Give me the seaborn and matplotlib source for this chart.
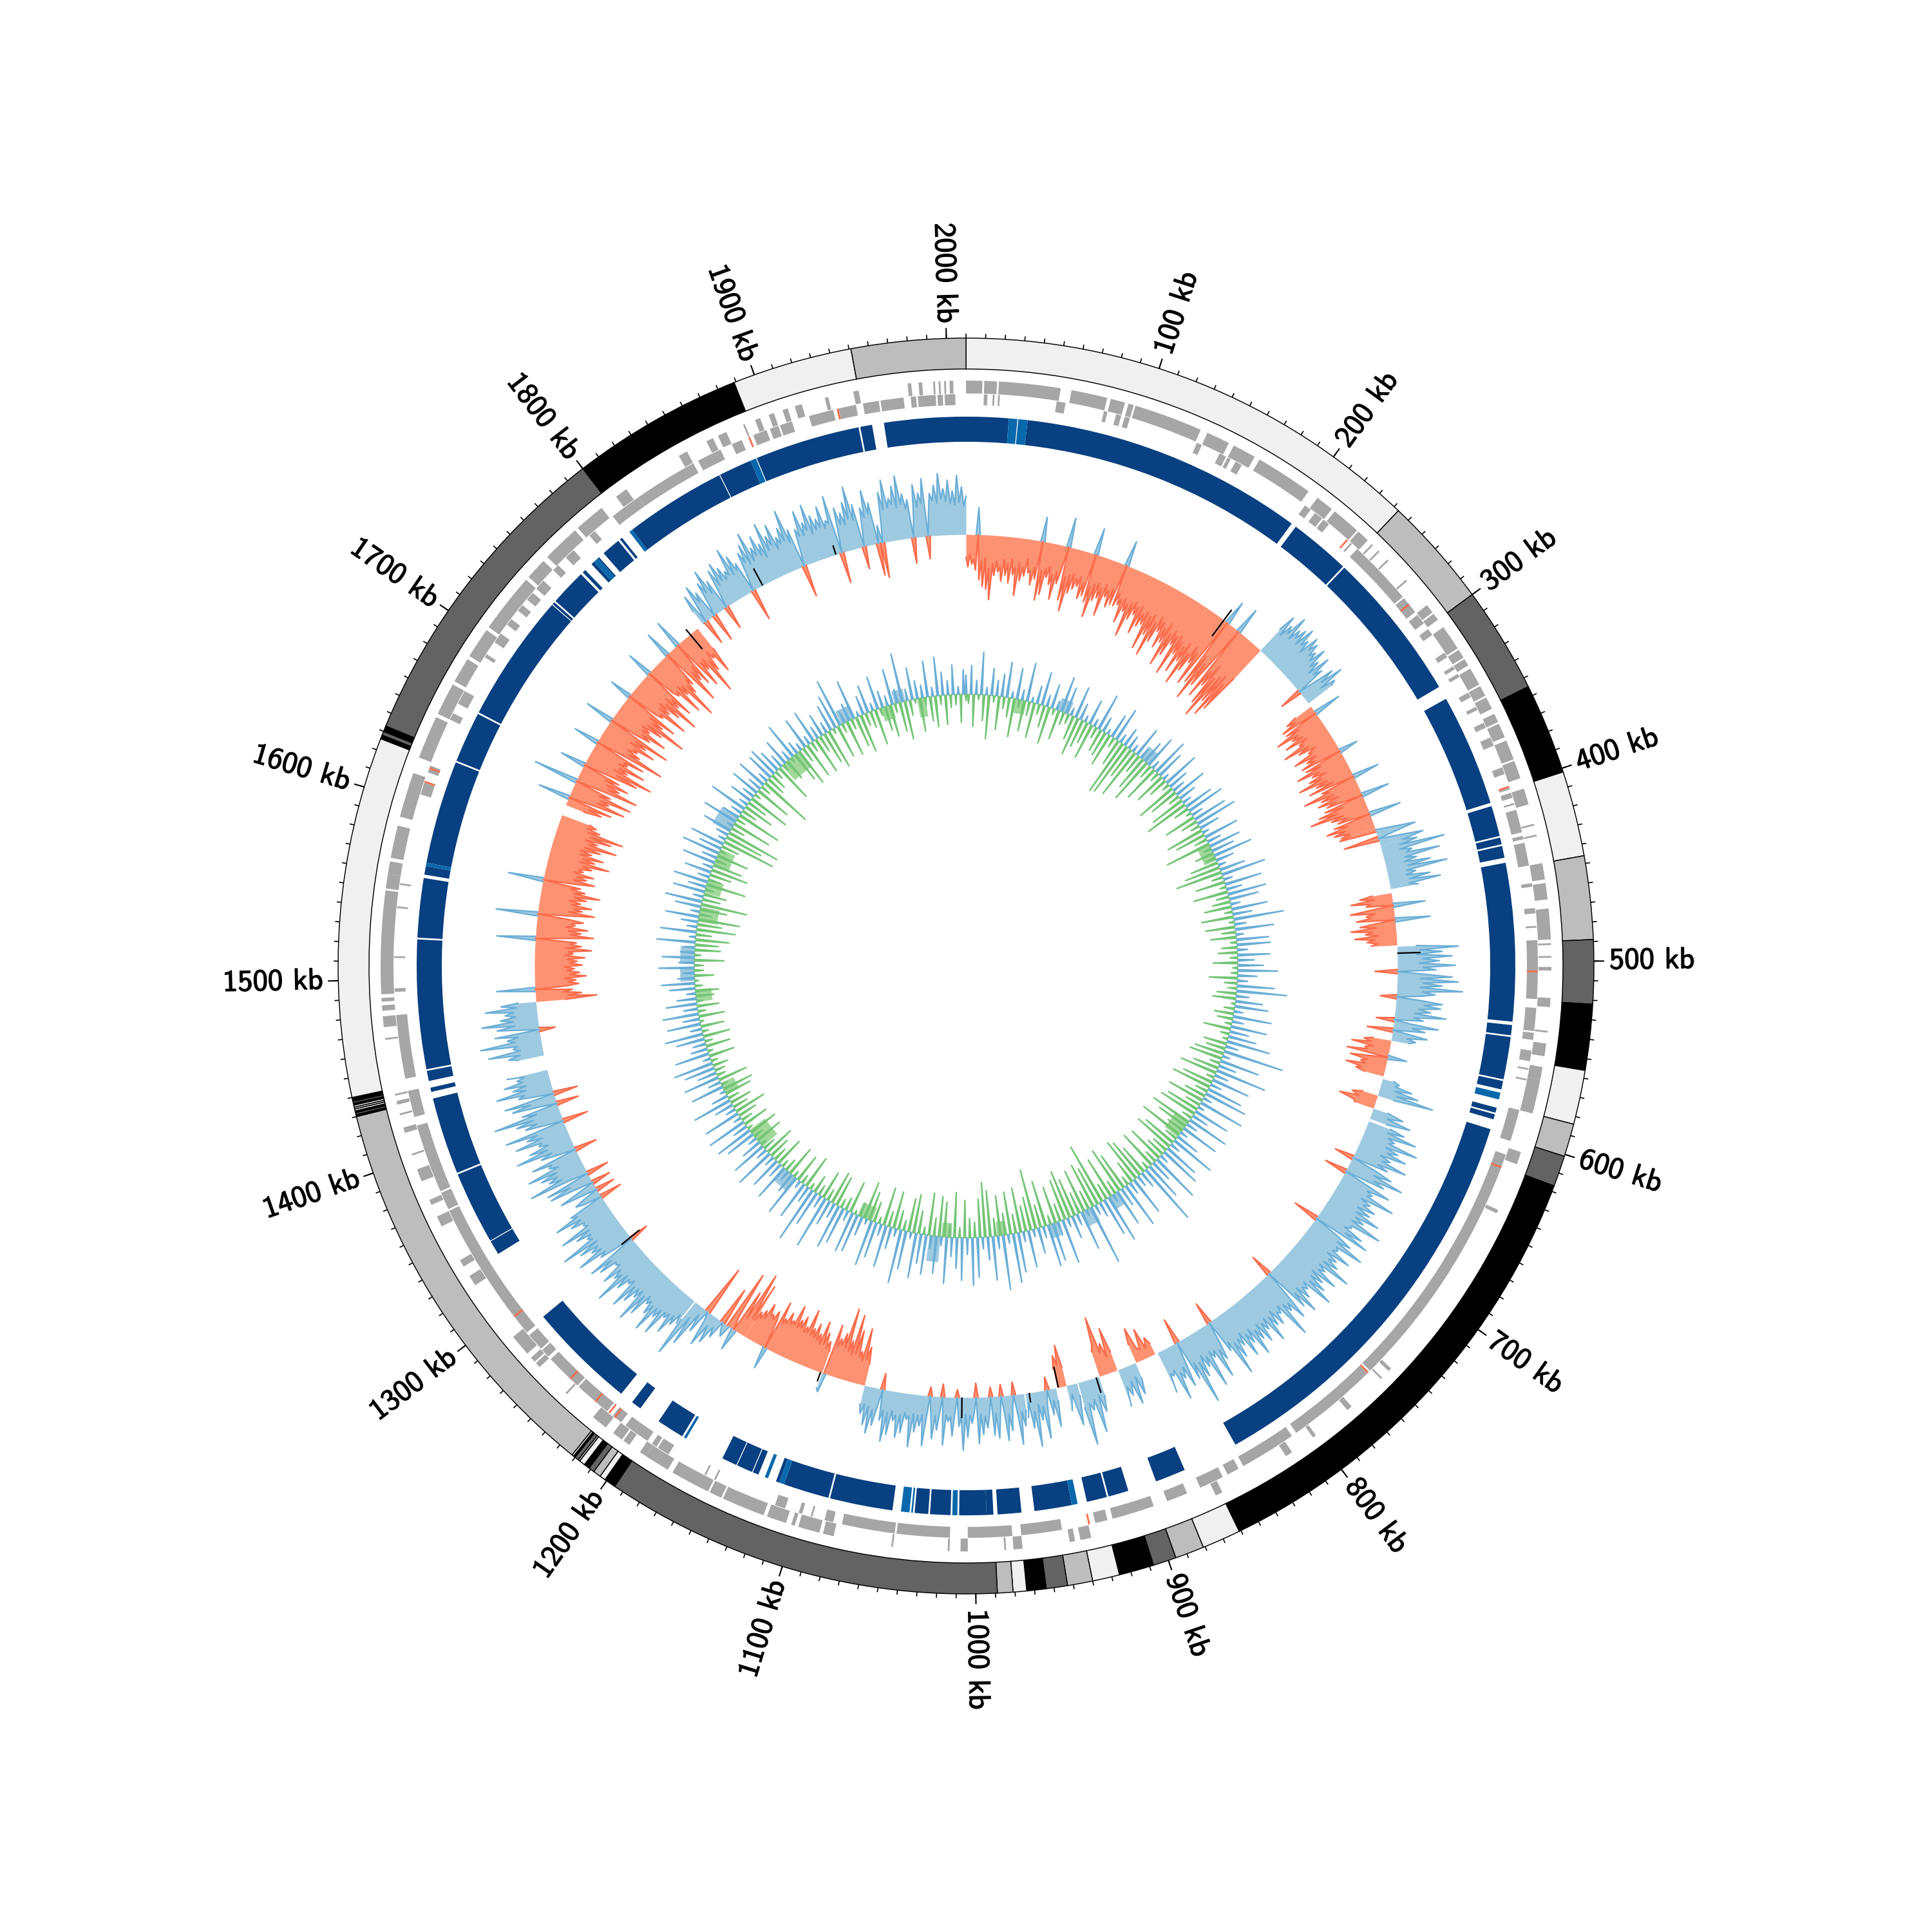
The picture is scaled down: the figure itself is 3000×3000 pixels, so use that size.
import numpy as np
import pandas as pd
import matplotlib
matplotlib.use("Agg")
import matplotlib.pyplot as plt
import matplotlib.patheffects as pe
import seaborn as sns

sns.set_theme(style="white")
plt.rcParams['font.family'] = ['cmss10', 'DejaVu Sans']
plt.rcParams['axes.unicode_minus'] = False

genome_kb = 2010
tick_labels = [100, 200, 300, 400, 500, 600, 700, 800, 900, 1000,
               1100, 1200, 1300, 1400, 1500, 1600, 1700, 1800, 1900, 2000]

# outer ring bands: edges in kb and a shade index for each band
band_edges = [0, 243, 300, 355, 402, 446, 489, 522, 556, 584, 601, 617, 861, 881, 896, 908, 926, 940, 953, 964,
              974, 981, 989, 1195, 1201, 1204, 1208, 1211, 1214, 1217, 1218, 1220, 1221, 1222, 1430,
              1431, 1432, 1433, 1434, 1435, 1436, 1437, 1438, 1439, 1440, 1626, 1628, 1630, 1633, 1800, 1889, 1951, 2010]
band_shade = [0, 1, 2, 3, 0, 1, 2, 3, 0, 1, 2, 3, 0, 1, 2, 3, 0, 1, 2, 3,
              0, 1, 2, 3, 0, 1, 2, 3, 0, 1, 2, 3, 0, 1,
              3, 2, 3, 0, 1, 0, 3, 2, 3, 3, 0, 3, 2, 3, 2, 3, 0, 1]
shades = ["#f0f0f0", "#bdbdbd", "#636363", "#000000"]

# gene blocks on each strand (start, end in kb)
genes_outer = [(0, 9), (10, 17), (18, 52), (58, 78), (80, 88), (90, 93), (94, 132), (136, 149), (152, 165), (168, 200),
               (206, 216), (218, 234), (235, 242), (245, 246), (250, 251), (257, 258), (272, 273), (290, 295), (296, 300),
               (305, 319), (320, 325), (326, 330), (332, 342), (343, 349), (350, 357), (360, 365), (366, 374), (376, 387),
               (388, 398), (404, 413), (424, 425), (430, 431), (446, 455), (457, 466), (471, 488), (490, 491), (497, 498),
               (503, 505), (520, 525), (538, 539), (545, 552), (558, 565), (565, 584), (606, 613), (640, 642), (745, 747),
               (752, 753), (775, 778), (800, 802), (816, 820), (860, 864), (945, 948), (936, 942), (974, 979), (983, 984),
               (1004, 1008), (1014, 1015), (1045, 1046), (1078, 1084), (1086, 1098), (1100, 1102), (1105, 1116), (1118, 1142),
               (1143, 1150), (1151, 1173), (1176, 1184), (1184, 1190), (1190, 1194), (1201, 1205), (1206, 1212), (1217, 1226),
               (1245, 1246), (1266, 1269), (1270, 1273), (1276, 1288), (1323, 1329), (1335, 1339), (1360, 1366), (1373, 1376),
               (1387, 1394), (1402, 1403), (1415, 1418), (1425, 1426), (1431, 1433), (1436, 1437), (1467, 1468), (1474, 1480),
               (1483, 1486), (1488, 1490), (1492, 1549), (1550, 1558), (1558, 1565), (1567, 1585), (1590, 1615), (1624, 1648),
               (1650, 1668), (1670, 1684), (1686, 1703), (1705, 1738), (1740, 1752), (1755, 1776), (1778, 1795), (1805, 1812),
               (1846, 1851), (1863, 1867), (1870, 1875), (1885, 1886), (1892, 1895), (1900, 1903), (1908, 1911), (1915, 1919),
               (1932, 1934), (1948, 1951), (1978, 1980), (1984, 1986), (1992, 1993), (1995, 1996), (1998, 1999), (2001, 2003)]
genes_inner = [(10, 12), (15, 16), (18, 19), (51, 56), (78, 80), (85, 88), (90, 93), (133, 136), (147, 151), (152, 154),
               (157, 161), (203, 207), (210, 215), (216, 220), (236, 237), (241, 278), (279, 289), (291, 297), (301, 305),
               (317, 320), (326, 328), (331, 333), (343, 346), (352, 354), (362, 365), (371, 376), (389, 393), (401, 402),
               (404, 407), (410, 411), (414, 427), (429, 431), (433, 446), (456, 458), (470, 473), (480, 481), (488, 521),
               (526, 539), (540, 544), (550, 556), (560, 561), (566, 567), (584, 602), (610, 622), (622, 754), (756, 808),
               (811, 843), (846, 853), (856, 870), (878, 890), (898, 922), (925, 932), (951, 974), (979, 1004), (1014, 1044),
               (1045, 1075), (1080, 1085), (1092, 1093), (1098, 1100), (1108, 1114), (1150, 1151), (1156, 1157),
               (1180, 1187), (1188, 1191), (1194, 1203), (1203, 1209), (1212, 1218), (1222, 1243), (1244, 1265), (1267, 1272),
               (1273, 1283), (1285, 1331), (1331, 1341), (1340, 1353), (1352, 1366), (1367, 1377), (1378, 1392), (1390, 1417),
               (1422, 1437), (1444, 1480), (1493, 1495), (1512, 1513), (1540, 1541), (1553, 1554), (1605, 1612), (1618, 1622),
               (1650, 1654), (1660, 1668), (1690, 1692), (1700, 1706), (1712, 1716), (1722, 1726), (1730, 1735), (1738, 1744),
               (1752, 1756), (1762, 1768), (1780, 1784), (1797, 1815), (1815, 1851), (1854, 1868), (1875, 1881), (1888, 1896),
               (1898, 1903), (1904, 1911), (1921, 1935), (1938, 1948), (1952, 1961), (1962, 1975), (1979, 1982), (1983, 1993),
               (1994, 1997), (1998, 2004)]
gene_red = [(233, 234), (283, 284), (400, 401), (505, 506), (617, 618), (755, 756), (1216, 1217), (1220, 1221),
            (1230, 1231), (1249, 1250), (1296, 1297), (1612, 1613), (1620, 1621), (1885, 1886), (1937, 1938), (935, 936)]

# backbone ring segments
ring_dark = [(0, 25), (36, 203), (206, 242), (243, 332), (340, 406), (408, 426), (427, 431), (432, 439), (442, 535),
             (537, 543), (544, 569), (570, 575), (586, 589), (590, 593), (599, 841), (874, 892), (909, 921), (922, 934),
             (943, 965), (972.6, 986.6), (989, 993), (993, 1009), (1014, 1026), (1027, 1035), (1048, 1085), (1086, 1113),
             (1116, 1118), (1129, 1132.5), (1133, 1142.5), (1143, 1152), (1178.7, 1195), (1208, 1214), (1222, 1286),
             (1331, 1339.5), (1340, 1383), (1384, 1429.5), (1433.5, 1436), (1440, 1446), (1447, 1523), (1524, 1559),
             (1561, 1566), (1568, 1629), (1630, 1660), (1661, 1737), (1737.5, 1739), (1740, 1761.5), (1763, 1765),
             (1770, 1772), (1775, 1776), (1779.5, 1790.7), (1792, 1793.5), (1801, 1861), (1861.5, 1881), (1885, 1947),
             (1948, 1955), (1962, 2010)]
ring_mid = [(25, 30), (30.5, 36), (577, 581), (939.5, 943), (1010, 1013), (1036, 1037), (1038, 1043), (1113, 1116), (1123, 1125),
            (1176, 1177.5), (1566, 1568), (1772, 1775), (1799, 1801), (1881, 1884.5)]

# gc skew track, one value list per stretch of genome (positive outward, negative inward)
skew_a = [-35, -50, -30, -46, -38, -55, 42, -70, -40, -80, -36, -84, -52, -100, -44, -62, -40, -56, -48, -70, -36, -60, -42, -72, -34, -58,
          -46, -90, -38, -66, -44, -58, -30, -52, -48, -70, -42, -60, 38, -92, -44, -82, -40, -54, -36, -64, -48, -86, -42, -60, -38, 46, -84,
          -46, -100, -42, -70, -38, -62, -44, -56, -40, -74, -48, -68, 42, -76, -50, -98, -44, -70, -40, -64, -46, -90, -38, -58, -46, -72, -42,
          -66, 40, -66, -44, -62, -52, -88, -48, -68, -54, -106, -50, -76, -46, -66, -52, -94, -48, -80, -58, -74, -52, -112, -56, -86, -50,
          -118, -60, -92, -48, -72, -54, -96, -62, -84, -50, -120, -64, -100, -56, -78, -62, -126, -58, -88, -66, -116, -70, -94, -60, -130,
          -74, -104, -58, -86, -66, -120, -70, 38, -112, -62, -138, -72, -110, -68, 42, -124, -76, -100, -60, -130, -80, -150, -72, -118, -66,
          -140, -78, -125, -60]
skew_b = [45, 72, 38, 60, 48, 82, 44, 64, 52, 70, 46, 78, 50, 62, 42, 74, 54, 68, 48, 58, 44, 70, 38, 52, 30, 66, 34, 48, -35, 28, 60, 36, 72,
          30, 54, 46]
skew_c = [-30, -48, -34, -60, 44, -58, -36, -78, -42, -55, -38, -70, -34, -50, -44, -80, -38, -58, -30, -44, -40, -72, -36, -54, -42, -66, 30,
          -62, -38, -80, -44, -58, -36, -66, -46, -86, -40, -60, -32, -74, 42, -56, -44, -88, -40, -62, -34, -70, -42, -58, 44, -64, -36, -76,
          -46, -92, -40, -60, -34, -52, 50, -60, -38, -74, -44, -64, -40, -55]
skew_d = [-40, -58, 30, 62, 28, -55, 35, 70, 40]
skew_e = [35, 58, 30, 100, 28, 46, 36, 88, 32, 50, 30, 70, 34, 95, 30, 44, 28, 65, 32, 80, 30, 44]
skew_f = [-30, -50, -28, -65, -34, -42, 50, -38, -68, -30, -44, -36, -60, 55, -32, -55, -30, -70, -36, -48, -28, -65, -34, -46, -30, -40]
skew_g = [30, 95, 35, 70, 30, 85, 38, 65, 34, 90, 40, 60, -35, 42, 85, 36, 95, 40, 70, 36, 102, 40, 60, 38, -25, 40, 72, 44, 70, 36, 55, 30, 80,
          30, 45, -28, 26, 70, 30, 50, -40, 28, 55, 24, 38, 28]
skew_h = [-28, -42, -30, -60, -26, -38, -34, -65, 30, -28, -58, -30, -40, -32, -62, -36, -45, -30]
skew_i = [18, 28, 22, 50, 24, 62, 28, 88, 26]
skew_j = [-24, -40, -28, -58, -34, -30]
skew_k = [24, 50, 26, 65, 28]
skew_l = [36, 60, 34, 82, 38, 50, 42, 90, 40, 62, 46, 78, 38, 56, 44, 85, 40, 58, -30, 44, 70, 42, 92, 46, 65, -35, 40, 80, 44, 55, 48, 95, 42,
          60, 50, 72, 44, 68, 46, 88, 50, 66, 48, 100, 52, 54, 44, 78, 50, 92, -40, 46, 70, 48, 96, 52, 58, 50, 84, 46, 66, 54, 74, 50, 100, 48,
          62, 52, 88, 46, 70, 50, 80, 54, 98, 48, 60, 52, 70, 46, 90, 50, 74, -35, 48, 85, 54, 66, 50, 105, 46, 58, 52, 72, 44, 68, 50, 90, 46,
          64, 50, 80, 46, 70, 52, 92, 44, 66, 48, 84, 40, 60, 46, 76, 48, 100, 42, 55, -35, 36, 62, 44, 88, 40, 50, 38, 95, 42, 58, 36, 70, 44,
          110, 40, 66, -40, 34, 72, 38, 55, 44, 86, 36, 44, 38, 68]
skew_m = [-18, -30, -14, -48, -16, -22, -55, -30]
skew_n = [25, 50, 20, 62, 24, 45, 30, 60]
skew_o = [-30, -70, -25, -48, -35, -93, -50, -40]
skew_p = [30, 55, 28, 85, 32, 48, 36, 100, 40]
skew_q = [20, 65, 15, 40]
skew_r = [-30, -65, -35, -50, -30]
skew_s = [20, 60, 18, 40, -20, 22, 75, 24, 45, 20, 85, 30, 55, 15, 38]
skew_t = [26, 50, 28, 78, 30, -20, 20, 55, 30, 70, 28, -18, 30, 65, 26, 60, -15, 28, 48, 30, 58, 26, 72, -22, 24, 40, 28, 62, 26, 82, 30, 45, -12,
          26, 60, 30, 38, 28, 75, -20, 24, 52, 30, 66, 28, -14, 35, 78, 30, 48, 32, 58, 30, 82, 34, 40, 30, 62, 34, 70, 36, 45, 30, 68, 34, 80, 32,
          48, -25, 30, 58, 34, 72, 30, 60, 28, 44, 30]
skew_u = [-34, -60, -40, -88, -36, -50, -42, -82, -44, -105, -40, -62, -44, -112, -48, -70, -50, -60, -46, -80, 30, 25]
skew_v = [-35, -50, -38, -62, -42, -78, -40, -56, -44, -70, -46, -60, -48, -88, -50, -58, -48, -72, -52, -64, -50, -85, -52, -58, -50, -68, -48,
          -55, -46, -80, 35, -46, -60, -44, -52, -48, -66, -40, -52, -36, -46, -30]
skew_w = [-90, -30, -105, -25, -70, 35, -20, -95, 20, 12, -60, 30, 15, 45, 18, 55, 15, -80, 40, 12, 70, 25, 95, 35]
skew_x = [44, 30, 52, 38, 72, 40, 50, 42, 85, 44, 60, 46, 90, 48, 65, 44, 52, 40, 78, 46, 95, 42, 58, 44, 72, 46, 88, 40, 50, 44, 66, 42, 98, 48,
          60, 44, 75, 40, 45, 42, 70, 46, 82, -30, 30, 55, 44, 90, 46, 62, 48, 78, 44, 104, 48, 55, 46, 70, 44, 92, 42, 48, 44, 66, 46, 88, 48, 58,
          -35, 30, 42, 26, -30, 28, 60, 26, -30, 30, 70, 34, 72, -35, 30, 95, 40, 60, 44, 70, 42, 88, 36, 50, 44, 75, -35, 28, 55, 36, 92, 40, 68,
          36, 50, 44, 85, 40, 64, 46, 96, -40, 30, 60, 40, 72, 44, 105, 36, 58, -35, 30, 70, 40, 80, -38, 30, 55, 44, 88, 40, 60, 38, 72, 42, 50, 36, 64]
skew_y = [40, 55, 36, 85, 34, 45, 38, 95, 40, 52, 34, 70, -25, 30, 65, 36, 88, 38, 58, 34, 50, 36, 80, 30, 55, 28]
skew_z = [-46, -95, -50, -72, -44, -58, 60, -48, -68, -52, -64, -46, -80, -54, -70, -50, -62, -46, -74, -54, -66, -50, -78, -46, -60, -52, -88, -48,
          -72, -54, -64, 60, -48, -90, -54, -70, -50, -80, -46, -60, -54, -72, -50, 65, -52, -88, -48, -68, -54, -82, -50, -64, -46, -72, -52, -92,
          -50, -68, -44, -60, 55, -52, -80, -46, -66, -50, -76, -44, -58, -50, -70, -54, -96, -48, -72, -52, -84, -46, -64, -44, -76, -50, -100, -54,
          -68, -48, -88, -52, -105, -48, -66, -44, -58, -46]
skew_aa = [-30, -58, -36, -72, 50, -40, -90, -44, -62, -48, -96, -42, -60, 70, -46, -100, -50, -68, -46, -80, -40, -62, 40, -48, -88, -52, -110, -44,
           -66, -50, -92, -46, -60, -52, -84, 40, -48, -112, -52, -70, -46, -62, -54, -88, -44, -70, -50, -105, 45, -46, -68, -52, -92, -48, -60, -44,
           -78, -50, -115, -54, -72, -46, -90, 35, -50, -62, -56, -100, -48, -66, -44, -80, -52, -108, -46, -70, -54, -88, 40, -48, -58, -52, -95, -46,
           -66, -50, -112, -56, -72, -48, -60, 42, -50, -98, -46, -64, -40, -75, 45, -48, -85, -44, -60, -42, -105, -50, -70, -38, -52, -46, -80, -40]
skew_ab = [25, 50, -40, 28, 60, 30, 45, -45, 22, 55, 36, 72, 30, 50, -38, 28, 62, 34, 70, 38, 58, 36, 48, 40, 82, 36, 66, 40, 50, -50, 26, 62, 44, 72,
           38, 88, 40, 60, 46, 76, 42, 60, 36, 90, 44, 66, 50, 82, 40, 58, 46, 70, 48, 96, 42, 62, -50, 24, 58, 46, 85, 44, 64, 50, 90, 42, 70, 46, 62,
           48, 80, 44, 55, 50, 92, -48, 30, 70, 42, 60, 40, 75, 48, 98, 44, 68, -35, 25, 60, 44, 86, 48, 65, -50, 28, -55, 30, 78, 50, 96, 52, 66, 56,
           84, 50, 99, 54, 70, 46, 60, -40, 30, 82, 46, 68, 52, 90, -35, 35, 66, 54, 78, 50, 96, 56, 72, 52, 85, 48, 68, 46, 92, 50, 74, 44, 60]
skew_spans = [(0, 240, skew_a), (240, 293, skew_b), (296, 398, skew_c), (398, 412, skew_d), (412, 445, skew_e),
              (448, 487, skew_f), (488, 558, skew_g), (558, 585, skew_h), (587, 600, skew_i), (600, 610, skew_j),
              (610, 618, skew_k), (620, 858, skew_l), (860, 875.5, skew_m), (876, 890, skew_n), (890.5, 904.5, skew_o),
              (905, 921, skew_p), (922, 930, skew_q), (930, 937, skew_r), (938, 961, skew_s), (962, 1081, skew_t),
              (1081, 1114, skew_u), (1114, 1177, skew_v), (1177, 1222, skew_w), (1223, 1430, skew_x), (1441, 1481, skew_y),
              (1481, 1622, skew_z), (1630, 1795, skew_aa), (1800, 2010, skew_ab)]
# narrow black marks on the skew track (kb, low, high)
marks_kb = [205, 493, 907, 936, 958, 1008, 1115, 1290, 1788, 1853, 1912]
marks_lo = [-31, 0, 0, -33, 0, 0, 0, -18, -30, 0, 0]
marks_hi = [20, 36, 25, 0, 15, 32, 15, 18, 10, 30, 15]

# gc content track, one spike per value
gc_a = [30, -14, 45, -50, 22, -8, 66, -40, 12, -68, 42, -10, 24, -52, 35, -18, 55, -30, 10, -60, 48, -12, 16, -48, 60, -22, 8, -55, 28,
        -16, 52, -34, 18, -58, 38, -9, 14, -46, 56, -20, 42, -15, 12, -38, 50, -60, 26, -44, 10, -34, 40, -56, 12, -18, 58, -36, 24, -40,
        8, -52, 38, -16, 54, -42, 14, -88, 30, -85, 22, -50, 12, -80, 48, -30, 18, -55, 36, -72]
gc_b = [52, -22, 14, -58, 60, -15, 44, -50, 10, -30, 58, -12, 32, -64, 20, -46, 52, -18, 28, -55, 14, -70, 46, -24, 60, -8, 18, -50, 54, -26,
        66, -14, 32, -60, 10, -48, 55, -20, 22, -72, 50, -12, 36, -30, 62, -16, 28, -44, 12, -56, 40, -73, 70, -18, 14, -46, 58, -10, 24, -54,
        60, -20, 46, -28, 15, -42, 56, -12, 30, -50, 78, -8, 18, -46, 60, -22, 12, -40, 50, -10, 52, -24, 16, -30]
gc_c = [50, -12, 26, -38, 40, -8, 62, -10, 30, -44, 16, -20, 58, -14, 78, -30, 20, -36, 42, -6, 52, -16, 14, -30, 60, -24, 18, -10, 56, -42,
        30, -14, 44, -8, 68, -36, 20, -30, 95, -46, 12, -52, 62, -16, 28, -40, 80, -58, 22, -12, 60, -48, 18, -62, 56, -20, 68, -34, 14, -58, 72,
        -24, 10, -52, 57, -60, 26, -16, 66, -66, 18, -50, 60, -28, 12, -70, 38, -20, 72, -54, 16, -64, 56, -26]
gc_d = [66, -30, 14, -58, 78, -20, 34, -62, 60, -12, 98, -48, 26, -64, 18, -70, 62, -36, 20, -14, 72, -60, 30, -74, 58, -22, 12, -66, 76, -26,
        60, -97, 24, -62, 16, -72, 94, -30, 10, -68, 62, -34, 18, -60, 36, -76, 14, -64, 70, -28, 22, -58, 60, -14, 66, -72, 18, -36, 40, -94,
        12, -52, 58, -40, 16, -70, 62, -30, 77, -66, 14, -34, 85, -62, 20, -28, 68, -72, 36, -85, 18, -60, 62, -24]
gc_e = [74, -30, 26, -58, 66, -16, 48, -70, 30, -20, 72, -54, 14, -62, 58, -28, 20, -66, 62, -12, 46, -36, 70, -60, 10, -52, 60, -16, 84, -30,
        12, -58, 34, -24, 66, -60, 18, -10, 56, -32, 72, -46, 8, -59, 30, -22, 60, -6, 64, -50, 16, -20, 58, -14, 70, -48, 24, -52, 40, -18, 84,
        -44, 20, -16, 56, -28, 89, -10, 26, -52, 60, -14, 12, -44, 66, -10, 32, -48, 16, -20, 58, -12, 24, -46]
gc_f = [50, -22, 16, -34, 64, -48, 18, -20, 56, -10, 32, -44, 14, -16, 48, -46, 60, -8, 24, -40, 63, -18, 12, -30, 58, -50, 16, -24, 30, -34, 62,
        -18, 26, -42, 8, -48, 52, -10, 20, -46, 56, -14, 30, -16, 48, -24, 62, -10, 12, -40, 54, -8, 26, -38, 20, -12, 44, -42, 60, -10, 18, -36,
        52, -6, 26, -40, 56, -12, 22, -34, 48, -10, 30, -28, 14, -36, 40, -12, 52, -6, 26, -30, 18, -14]
gc_g = [55, -14, 24, -46, 50, -10, 22, -40, 18, -36, 60, -52, 10, -24, 56, -60, 16, -38, 26, -65, 52, -20, 14, -42, 40, -72, 58, -28, 16, -36, 50,
        -14, 28, -62, 54, -20, 18, -34, 42, -58, 16, -46, 52, -18, 24, -50, 60, -10, 36, -28, 54, -84, 12, -60, 20, -85, 46, -22, 10, -62, 56, -14,
        28, -70, 18, -24, 60, -48, 14, -32, 36, -66, 20, -10, 46, -58, 22, -16, 48, -84, 16, -30, 44, -26]
gc_h = [48, -14, 36, -60, 22, -10, 42, -34, 16, -8, 58, -48, 20, -60, 12, -24, 50, -56, 14, -16, 52, -58, 20, -26, 36, -50, 18, -62, 42, -8, 54,
        -52, 76, -14, 20, -56, 28, -16, 62, -48, 8, -60, 30, -20, 44, -26, 12, -56, 52, -12, 26, -38, 16, -50, 56, -14, 22, -46, 76, -60, 18, -24,
        50, -6, 28, -52, 20, -12, 56, -38, 14, -48, 60, -14, 36, -46, 22, -20, 46, -16, 12, -44, 38, -10]
# wider filled patches on the gc content track (start, end, level)
gc_patches = [(1672, 1692, 30), (1630, 1650, -25), (1595, 1612, -25), (1560, 1578, -30), (1510, 1530, 22), (1490, 1505, 22),
              (1465, 1480, -25), (1350, 1365, -22), (1275, 1300, -30), (1222, 1240, 25), (1118, 1136, -22), (1035, 1048, 40),
              (1022, 1034, -22), (957, 968, -22), (896, 908, 22), (850, 866, 25), (815, 830, 22), (698, 720, -25),
              (352, 375, -20), (222, 236, 22), (110, 124, 20), (58, 72, -22), (1952, 1962, -30), (1908, 1922, -22),
              (1925, 1938, 20), (1858, 1875, 22), (1772, 1800, -30)]
spike_half_width = 1.0

# tick positions in kb
minor_ticks = np.arange(0, 2010, 10)
major_ticks = np.array(tick_labels)


def to_theta(kb):
    return np.asarray(kb, dtype=float) / genome_kb * 2 * np.pi


def draw_blocks(ax, blocks, r0, r1, color):
    starts = np.array([b[0] for b in blocks], dtype=float)
    ends = np.array([b[1] for b in blocks], dtype=float)
    ax.bar(to_theta(starts), r1 - r0, width=to_theta(ends - starts), bottom=r0, align='edge',
           color=color, linewidth=0)


def draw_line_runs(ax, th, vals, base, color, lw):
    # seaborn drops nan rows so each run of non zero samples gets its own unit
    on = vals != 0
    prev_on = np.r_[False, on[:-1]]
    next_on = np.r_[on[1:], False]
    keep = on | prev_on | next_on
    run = np.cumsum(~on & ~prev_on)
    df = pd.DataFrame({"theta": th[keep], "r": base + vals[keep], "run": run[keep]})
    if len(df):
        sns.lineplot(data=df, x="theta", y="r", units="run", estimator=None, sort=False,
                     color=color, linewidth=lw, ax=ax, legend=False)


def draw_track(ax, kb, vals, base, up_fill, up_line, down_fill, down_line, lw):
    th = to_theta(kb)
    vals = np.asarray(vals, dtype=float)
    up = np.clip(vals, 0, None)
    down = np.clip(vals, None, 0)
    ax.fill_between(th, base, base + up, color=up_fill, linewidth=0)
    ax.fill_between(th, base, base + down, color=down_fill, linewidth=0)
    draw_line_runs(ax, th, up, base, up_line, lw)
    draw_line_runs(ax, th, down, base, down_line, lw)


fig = plt.figure(figsize=(10, 10), dpi=300)
ax = fig.add_axes([0, 0, 1, 1], projection='polar')
ax.set_theta_zero_location('N')
ax.set_theta_direction(-1)

# outer ring
edges = np.array(band_edges, dtype=float)
ax.bar(to_theta(edges[:-1]), 975 - 927, width=to_theta(np.diff(edges)), bottom=927, align='edge',
       color=[shades[s] for s in band_shade], edgecolor='black', linewidth=0.35)

# ticks
ax.vlines(to_theta(minor_ticks), 975, 982, color='black', linewidth=0.4)
ax.vlines(to_theta(major_ticks), 975, 991, color='black', linewidth=0.5)
stroke = [pe.withStroke(linewidth=0.3, foreground='black')]
for kb in tick_labels:
    deg = kb / genome_kb * 360
    if deg < 180:
        ax.text(to_theta(kb), 999, f"{kb} kb", rotation=90 - deg, rotation_mode='anchor', color='black',
                ha='left', va='center', fontsize=11.2, path_effects=stroke)
    else:
        ax.text(to_theta(kb), 999, f"{kb} kb", rotation=270 - deg, rotation_mode='anchor', color='black',
                ha='right', va='center', fontsize=11.2, path_effects=stroke)

# genes
draw_blocks(ax, genes_outer, 889, 909, "#a6a6a6")
draw_blocks(ax, genes_inner, 871, 888, "#a6a6a6")
draw_blocks(ax, gene_red, 871, 888, "#fb6a4a")

# backbone ring
draw_blocks(ax, ring_dark, 814, 853, "#084081")
draw_blocks(ax, ring_mid, 814, 853, "#0868ac")

# gc skew
for start, end, vals in skew_spans:
    kb = np.linspace(start, end, len(vals))
    draw_track(ax, kb, vals, 670, "#9ecae1", "#6baed6", "#fc9272", "#fb6a4a", 0.55)
ax.vlines(to_theta(marks_kb), 670 + np.array(marks_lo), 670 + np.array(marks_hi), color='black', linewidth=0.55)

# gc content
for start, end, level in gc_patches:
    r0, r1 = sorted((422, 422 + level))
    ax.bar(to_theta(start), r1 - r0, width=to_theta(end - start), bottom=r0, align='edge', linewidth=0,
           color="#9ecae1" if level > 0 else "#a1d99b")
gc_values = gc_a + gc_b + gc_c + gc_d + gc_e + gc_f + gc_g + gc_h
gc_kb = np.linspace(0, genome_kb, len(gc_values))
# each value is drawn as a narrow spike that starts and ends on the base circle
spike_kb = np.column_stack([gc_kb - spike_half_width, gc_kb, gc_kb + spike_half_width]).ravel()
spike_val = np.column_stack([np.zeros(len(gc_values)), gc_values, np.zeros(len(gc_values))]).ravel()
draw_track(ax, spike_kb, spike_val, 422, "#9ecae1", "#6baed6", "#a1d99b", "#74c476", 0.55)

ax.set_rlim(0, 1500)
ax.axis('off')
fig.savefig("out.png", dpi=300, facecolor='white')
